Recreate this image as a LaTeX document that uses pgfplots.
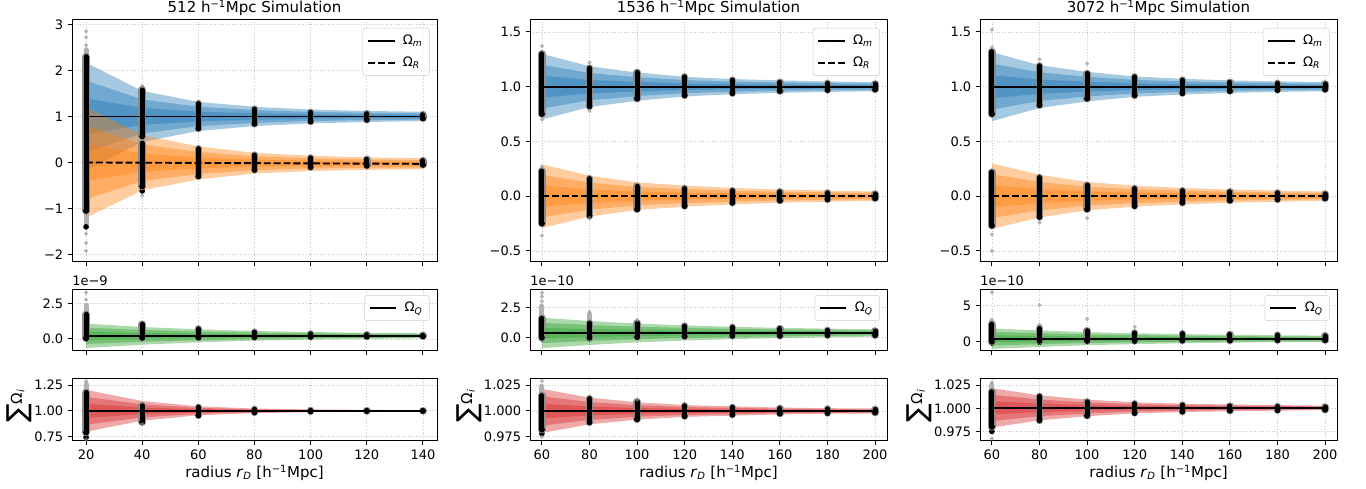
\documentclass[border=0pt]{standalone}
\usepackage{fontspec}
\setmainfont{DejaVu Sans}
\usepackage{pgfplots}
\pgfplotsset{compat=1.18}
\usepackage{pgfplotstable}
\usepgfplotslibrary{fillbetween}
\definecolor{tblue}{HTML}{1F77B4}
\definecolor{torange}{HTML}{FF7F0E}
\definecolor{tgreen}{HTML}{2CA02C}
\definecolor{tred}{HTML}{D62728}

\newcommand{\bandk}[4]{%
\addplot[name path=#4u#3, draw=none, forget plot] table[x=r, y expr=\thisrow{m}+#3*\thisrow{s}] {#1};
\addplot[name path=#4l#3, draw=none, forget plot] table[x=r, y expr=\thisrow{m}-#3*\thisrow{s}] {#1};
\addplot[fill=#2, fill opacity=0.4, draw=none, forget plot] fill between[of=#4u#3 and #4l#3];
}
\newcommand{\bands}[3]{\bandk{#1}{#2}{1}{#3}\bandk{#1}{#2}{2}{#3}\bandk{#1}{#2}{3}{#3}}
% dense scatter columns: gray rim + black core, from lo to hi
\newcommand{\columns}[1]{%
\addplot[colg] table[row sep=\\, x=r, y=lo, y error expr=\thisrow{hi}-\thisrow{lo}] {#1};
\addplot[col] table[row sep=\\, x=r, y=lo, y error expr=\thisrow{hi}-\thisrow{lo}] {#1};
}
% sparse gray extension of a column
\newcommand{\halo}[1]{%
\addplot[halo] table[row sep=\\, x=r, y=lo, y error expr=\thisrow{hi}-\thisrow{lo}] {#1};
}

\pgfplotsset{
 base/.style={scale only axis, anchor=south west, axis line style={line width=0.8pt},
  clip mode=individual,
  tick align=outside, major tick length=3.5pt, tick style={line width=0.8pt, black},
  xtick pos=left, ytick pos=left, grid=major,
  major grid style={line width=0.6pt, black!22, dash pattern=on 0.8pt off 1.4pt},
  tick label style={font=\fontsize{10.4}{12}\selectfont},
  label style={font=\fontsize{12}{14}\selectfont},
  every axis title/.style={at={(axis description cs:0.5,1)}, anchor=south, inner sep=0pt, yshift=3pt, font=\fontsize{12}{14}\selectfont},
  xlabel style={at={(axis description cs:0.5,0)}, anchor=north, inner sep=0pt, yshift=-19pt},
  legend style={draw=black!20, rounded corners=2pt, fill=white, fill opacity=0.8, text opacity=1,
   font=\fontsize{10.5}{12}\selectfont, inner sep=3.5pt, row sep=4.5pt, cells={anchor=west},
   /tikz/every odd column/.append style={column sep=4pt}},
  legend image code/.code={\draw[#1] (0pt,0pt) -- (21pt,0pt);},
 },
 leftcol/.style={width=292pt, xmin=15, xmax=145, xtick={20,40,60,80,100,120,140}},
 midcol/.style={width=285.6pt, xmin=55, xmax=205, xtick={60,80,100,120,140,160,180,200}},
 toprow/.style={height=193.6pt, xticklabels={}, legend style={at={(rel axis cs:0.98,0.967)}, anchor=north east}},
 midrow/.style={height=48.8pt, xticklabels={}, legend style={at={(rel axis cs:0.98,0.913)}, anchor=north east}},
 botrow/.style={height=49.6pt, xlabel={radius \textit{r}\textsubscript{\textit{D}} [h\textsuperscript{−1}Mpc]},
  ylabel={\raisebox{-0.3em}{\fontsize{22}{22}\selectfont ∑}Ω\textsubscript{\itshape i}}},
 col/.style={only marks, mark=none, forget plot, error bars/.cd, y dir=plus, y explicit, error mark=none,
  error bar style={line width=4pt, line cap=round, draw=black}},
 colg/.style={only marks, mark=none, forget plot, error bars/.cd, y dir=plus, y explicit, error mark=none,
  error bar style={line width=6pt, line cap=round, draw=black!45}},
 halo/.style={only marks, mark=none, forget plot, error bars/.cd, y dir=plus, y explicit, error mark=none,
  error bar style={line width=4pt, line cap=round, draw=black!30}},
 outl/.style={only marks, mark=*, mark size=1.4pt, draw=black!45, fill=black!40, opacity=0.6, forget plot},
 meanline/.style={black, line width=1.5pt, forget plot},
}

% left column (512)
\pgfplotstableread{
r m s
20 1.0 0.39
40 1.0 0.185
60 1.0 0.105
80 1.0 0.07
100 1.0 0.05
120 1.0 0.04
140 1.0 0.034
}\LB
\pgfplotstableread{
r m s
20 0.0 0.40
40 -0.005 0.20
60 -0.01 0.12
80 -0.015 0.075
100 -0.02 0.055
120 -0.025 0.045
140 -0.03 0.04
}\LO
\pgfplotstableread{
r m s
20 0.22 0.29
40 0.22 0.21
60 0.22 0.155
80 0.22 0.115
100 0.22 0.09
120 0.22 0.073
140 0.22 0.06
}\LG
\pgfplotstableread{
r m s
20 1.0 0.068
40 1.0 0.032
60 1.0 0.0145
80 1.0 0.0075
100 1.0 0.0045
120 1.0 0.003
140 1.0 0.002
}\LR
% middle column (1536)
\pgfplotstableread{
r m s
60 1.0 0.10
80 1.0 0.062
100 1.0 0.043
120 1.0 0.030
140 1.0 0.023
160 1.0 0.019
180 1.0 0.016
200 1.0 0.014
}\MB
\pgfplotstableread{
r m s
60 0.0 0.097
80 0.0 0.062
100 0.0 0.042
120 0.0 0.032
140 0.0 0.025
160 0.0 0.020
180 0.0 0.017
200 0.0 0.014
}\MO
\pgfplotstableread{
r m s
60 0.38 0.42
80 0.38 0.33
100 0.38 0.26
120 0.38 0.21
140 0.38 0.17
160 0.38 0.14
180 0.38 0.12
200 0.38 0.10
}\MG
\pgfplotstableread{
r m s
60 1.0 0.0071
80 1.0 0.0043
100 1.0 0.0028
120 1.0 0.0019
140 1.0 0.0015
160 1.0 0.0011
180 1.0 0.0009
200 1.0 0.0008
}\MR
% right column (3072)
\pgfplotstableread{
r m s
60 1.0 0.105
80 1.0 0.065
100 1.0 0.045
120 1.0 0.031
140 1.0 0.024
160 1.0 0.019
180 1.0 0.016
200 1.0 0.014
}\RB
\pgfplotstableread{
r m s
60 0.0 0.10
80 0.0 0.065
100 0.0 0.043
120 0.0 0.032
140 0.0 0.025
160 0.0 0.020
180 0.0 0.017
200 0.0 0.014
}\RO
\pgfplotstableread{
r m s
60 0.4 0.47
80 0.4 0.38
100 0.4 0.30
120 0.4 0.25
140 0.4 0.21
160 0.4 0.18
180 0.4 0.16
200 0.4 0.14
}\RG
\pgfplotstableread{
r m s
60 1.0005 0.0071
80 1.0005 0.0045
100 1.0005 0.0030
120 1.0005 0.0020
140 1.0005 0.0015
160 1.0005 0.0012
180 1.0005 0.0010
200 1.0005 0.0008
}\RR

\begin{document}
\begin{tikzpicture}
\path (0pt,0pt) rectangle (1092.8pt,388.8pt);

%================ LEFT COLUMN =================
\begin{axis}[base, leftcol, toprow, at={(57.6pt,181.6pt)}, ymin=-2.16, ymax=3.1,
  ytick={-2,-1,0,1,2,3}, yticklabels={−2,−1,0,1,2,3},
  title={512 h\textsuperscript{−1}Mpc Simulation}]
\bands{\LB}{tblue}{b}
\bands{\LO}{torange}{o}
\halo{r lo hi\\ 20 -1.40 2.45\\ 40 -0.62 1.62\\}
\columns{r lo hi\\ 20 -1.05 2.30\\ 40 0.57 1.58\\ 60 0.74 1.28\\ 80 0.84 1.16\\ 100 0.89 1.09\\ 120 0.93 1.06\\ 140 0.96 1.04\\
 40 -0.52 0.42\\ 60 -0.30 0.30\\ 80 -0.16 0.16\\ 100 -0.10 0.10\\ 120 -0.07 0.07\\ 140 -0.05 0.04\\}
\addplot[outl] coordinates {(20,2.55) (20,2.72) (20,2.85) (20,-1.55) (20,-1.75) (20,-1.92) (40,1.66) (40,-0.72)};
\addplot[meanline] table[x=r, y=m] {\LB};
\addplot[meanline, dash pattern=on 5.5pt off 2.4pt] table[x=r, y=m] {\LO};
\addlegendimage{black, line width=1.5pt}
\addlegendentry{Ω\textsubscript{\itshape m}}
\addlegendimage{black, line width=1.5pt, dash pattern=on 5.5pt off 2.4pt}
\addlegendentry{Ω\textsubscript{\itshape R}}
\end{axis}

\begin{axis}[base, leftcol, midrow, at={(57.6pt,110.4pt)}, ymin=-0.85, ymax=3.5,
  ytick={0,2.5}, yticklabels={0.0,2.5}]
\bands{\LG}{tgreen}{g}
\halo{r lo hi\\ 20 0.0 2.4\\}
\columns{r lo hi\\ 20 0.05 1.75\\ 40 0.08 1.05\\ 60 0.10 0.72\\ 80 0.13 0.48\\ 100 0.15 0.36\\ 120 0.17 0.30\\ 140 0.19 0.26\\}
\addplot[outl] coordinates {(20,2.8) (20,3.3)};
\addplot[meanline] table[x=r, y=m] {\LG};
\addlegendimage{black, line width=1.5pt}
\addlegendentry{Ω\textsubscript{\itshape Q}}
\node[anchor=south west, inner sep=0pt, yshift=3pt, font=\fontsize{10.4}{12}\selectfont] at (rel axis cs:0,1) {1e−9};
\end{axis}

\begin{axis}[base, leftcol, botrow, at={(57.6pt,38.4pt)}, ymin=0.707, ymax=1.312,
  ytick={0.75,1.0,1.25}, yticklabels={0.75,1.00,1.25},
  xticklabels={20,40,60,80,100,120,140},
  ylabel style={at={(axis description cs:-0.11,0.56)}, anchor=south, inner sep=0pt}]
\bands{\LR}{tred}{r}
\halo{r lo hi\\ 20 0.74 1.26\\}
\columns{r lo hi\\ 20 0.79 1.18\\ 40 0.89 1.05\\ 60 0.955 1.035\\ 80 0.985 1.015\\ 100 0.995 1.005\\ 120 0.998 1.002\\ 140 0.999 1.001\\}
\addplot[outl] coordinates {(20,1.29) (20,0.72) (40,0.87)};
\addplot[meanline] table[x=r, y=m] {\LR};
\end{axis}

%================ MIDDLE COLUMN =================
\begin{axis}[base, midcol, toprow, at={(424pt,181.6pt)}, ymin=-0.6, ymax=1.61,
  ytick={-0.5,0,0.5,1,1.5}, yticklabels={−0.5,0.0,0.5,1.0,1.5},
  title={1536 h\textsuperscript{−1}Mpc Simulation}]
\bands{\MB}{tblue}{b}
\bands{\MO}{torange}{o}
\columns{r lo hi\\ 60 0.75 1.30\\ 80 0.82 1.17\\ 100 0.89 1.13\\ 120 0.92 1.09\\ 140 0.94 1.06\\ 160 0.96 1.04\\ 180 0.97 1.03\\ 200 0.975 1.025\\
 60 -0.25 0.23\\ 80 -0.18 0.16\\ 100 -0.12 0.09\\ 120 -0.09 0.07\\ 140 -0.06 0.05\\ 160 -0.04 0.04\\ 180 -0.03 0.03\\ 200 -0.02 0.02\\}
\addplot[outl] coordinates {(60,1.37) (60,0.70) (60,-0.36) (60,0.27) (80,0.78) (80,1.22) (80,-0.2)};
\addplot[meanline] table[x=r, y=m] {\MB};
\addplot[meanline, dash pattern=on 5.5pt off 2.4pt] table[x=r, y=m] {\MO};
\addlegendimage{black, line width=1.5pt}
\addlegendentry{Ω\textsubscript{\itshape m}}
\addlegendimage{black, line width=1.5pt, dash pattern=on 5.5pt off 2.4pt}
\addlegendentry{Ω\textsubscript{\itshape R}}
\end{axis}

\begin{axis}[base, midcol, midrow, at={(424pt,110.4pt)}, ymin=-1.1, ymax=3.95,
  ytick={0,2.5}, yticklabels={0.0,2.5}]
\bands{\MG}{tgreen}{g}
\halo{r lo hi\\ 60 -0.1 2.6\\ 80 -0.1 1.9\\}
\columns{r lo hi\\ 60 0.0 1.6\\ 80 0.0 1.2\\ 100 0.05 1.2\\ 120 0.1 0.95\\ 140 0.15 0.85\\ 160 0.15 0.75\\ 180 0.2 0.6\\ 200 0.2 0.55\\}
\addplot[outl] coordinates {(60,3.0) (60,3.4) (60,3.7) (80,2.1) (100,1.45)};
\addplot[meanline] table[x=r, y=m] {\MG};
\addlegendimage{black, line width=1.5pt}
\addlegendentry{Ω\textsubscript{\itshape Q}}
\node[anchor=south west, inner sep=0pt, yshift=3pt, font=\fontsize{10.4}{12}\selectfont] at (rel axis cs:0,1) {1e−10};
\end{axis}

\begin{axis}[base, midcol, botrow, at={(424pt,38.4pt)}, ymin=0.9711, ymax=1.0311,
  ytick={0.975,1.0,1.025}, yticklabels={0.975,1.000,1.025},
  xticklabels={60,80,100,120,140,160,180,200},
  ylabel style={at={(axis description cs:-0.134,0.56)}, anchor=south, inner sep=0pt}]
\bands{\MR}{tred}{r}
\halo{r lo hi\\ 60 0.978 1.024\\}
\columns{r lo hi\\ 60 0.982 1.015\\ 80 0.989 1.012\\ 100 0.992 1.009\\ 120 0.995 1.005\\ 140 0.9965 1.0035\\ 160 0.9975 1.0025\\ 180 0.998 1.002\\ 200 0.9985 1.0015\\}
\addplot[outl] coordinates {(60,1.029) (60,0.975) (100,1.011)};
\addplot[meanline] table[x=r, y=m] {\MR};
\end{axis}

%================ RIGHT COLUMN =================
\begin{axis}[base, midcol, toprow, at={(784pt,181.6pt)}, ymin=-0.6, ymax=1.61,
  ytick={-0.5,0,0.5,1,1.5}, yticklabels={−0.5,0.0,0.5,1.0,1.5},
  title={3072 h\textsuperscript{−1}Mpc Simulation}]
\bands{\RB}{tblue}{b}
\bands{\RO}{torange}{o}
\columns{r lo hi\\ 60 0.75 1.32\\ 80 0.83 1.19\\ 100 0.89 1.12\\ 120 0.92 1.09\\ 140 0.94 1.06\\ 160 0.96 1.04\\ 180 0.97 1.03\\ 200 0.975 1.025\\
 60 -0.27 0.22\\ 80 -0.19 0.17\\ 100 -0.12 0.10\\ 120 -0.09 0.07\\ 140 -0.06 0.05\\ 160 -0.04 0.04\\ 180 -0.03 0.03\\ 200 -0.02 0.02\\}
\addplot[outl] coordinates {(60,1.52) (60,1.36) (60,-0.35) (60,-0.5) (80,1.25) (80,-0.24) (100,1.21) (100,-0.2)};
\addplot[meanline] table[x=r, y=m] {\RB};
\addplot[meanline, dash pattern=on 5.5pt off 2.4pt] table[x=r, y=m] {\RO};
\addlegendimage{black, line width=1.5pt}
\addlegendentry{Ω\textsubscript{\itshape m}}
\addlegendimage{black, line width=1.5pt, dash pattern=on 5.5pt off 2.4pt}
\addlegendentry{Ω\textsubscript{\itshape R}}
\end{axis}

\begin{axis}[base, midcol, midrow, at={(784pt,110.4pt)}, ymin=-1.28, ymax=7.15,
  ytick={0,5}, yticklabels={0,5}]
\bands{\RG}{tgreen}{g}
\halo{r lo hi\\ 60 -0.2 2.9\\ 80 -0.1 2.2\\}
\columns{r lo hi\\ 60 0.0 2.4\\ 80 0.1 1.8\\ 100 0.1 1.5\\ 120 0.1 1.2\\ 140 0.15 1.1\\ 160 0.15 1.0\\ 180 0.2 0.9\\ 200 0.2 0.8\\}
\addplot[outl] coordinates {(60,6.8) (80,5.05) (100,3.15) (120,2.05)};
\addplot[meanline] table[x=r, y=m] {\RG};
\addlegendimage{black, line width=1.5pt}
\addlegendentry{Ω\textsubscript{\itshape Q}}
\node[anchor=south west, inner sep=0pt, yshift=3pt, font=\fontsize{10.4}{12}\selectfont] at (rel axis cs:0,1) {1e−10};
\end{axis}

\begin{axis}[base, midcol, botrow, at={(784pt,38.4pt)}, ymin=0.9648, ymax=1.0319,
  ytick={0.975,1.0,1.025}, yticklabels={0.975,1.000,1.025},
  xticklabels={60,80,100,120,140,160,180,200},
  ylabel style={at={(axis description cs:-0.134,0.56)}, anchor=south, inner sep=0pt}]
\bands{\RR}{tred}{r}
\halo{r lo hi\\ 60 0.975 1.025\\}
\columns{r lo hi\\ 60 0.98 1.018\\ 80 0.987 1.013\\ 100 0.992 1.007\\ 120 0.995 1.005\\ 140 0.9965 1.0035\\ 160 0.9975 1.0025\\ 180 0.998 1.002\\ 200 0.9985 1.0015\\}
\addplot[outl] coordinates {(60,1.028) (60,0.967)};
\addplot[meanline] table[x=r, y=m] {\RR};
\end{axis}
\end{tikzpicture}
\end{document}
